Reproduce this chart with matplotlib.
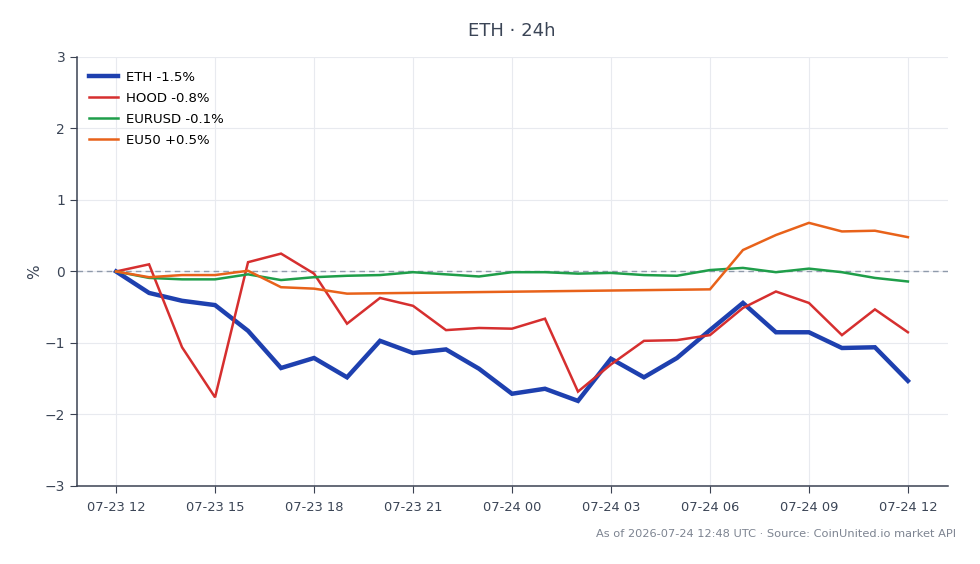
import matplotlib
matplotlib.use("Agg")
import matplotlib.pyplot as plt
import matplotlib.dates as mdates
import numpy as np
import pandas as pd

# hourly % change vs 07-23 12:00 UTC
hours = pd.date_range("2026-07-23 12:00", "2026-07-24 12:00", freq="h")

eth = [0, -0.30, -0.41, -0.47, -0.83, -1.35, -1.21, -1.48, -0.97, -1.14,
       -1.09, -1.36, -1.71, -1.64, -1.81, -1.22, -1.48, -1.21, -0.82, -0.44,
       -0.85, -0.85, -1.07, -1.06, -1.53]
hood = [0, 0.10, -1.06, -1.76, 0.13, 0.25, -0.03, -0.73, -0.37, -0.48,
        -0.82, -0.79, -0.80, -0.66, -1.68, -1.30, -0.97, -0.96, -0.89, -0.51,
        -0.28, -0.44, -0.89, -0.53, -0.85]
eurusd = [0, -0.09, -0.11, -0.11, -0.04, -0.12, -0.08, -0.06, -0.05, -0.01,
          -0.04, -0.07, -0.01, -0.01, -0.03, -0.02, -0.05, -0.06, 0.02, 0.05,
          -0.01, 0.04, -0.01, -0.09, -0.14]
# EU50 only trades part of the day
eu50_idx = [0, 1, 2, 3, 4, 5, 6, 7, 18, 19, 20, 21, 22, 23, 24]
eu50 = [0, -0.08, -0.05, -0.05, 0.01, -0.22, -0.24, -0.31,
        -0.25, 0.30, 0.51, 0.68, 0.56, 0.57, 0.48]

series = [
    ("ETH", hours, eth, "#1e40af", 3.2),
    ("HOOD", hours, hood, "#d62f2f", 1.8),
    ("EURUSD", hours, eurusd, "#1f9e4a", 1.8),
    ("EU50", hours[eu50_idx], eu50, "#e8621a", 1.8),
]

plt.rcParams['font.family'] = ['DejaVu Sans']
fig = plt.figure(figsize=(9.8, 5.64), dpi=100)
ax = fig.add_axes([0.0786, 0.1383, 0.8888, 0.7607])

ax.axhline(0, color="#8f9aab", lw=1, ls=(0, (4, 3)), zorder=2)
for name, x, y, c, lw in series:
    ax.plot(x, y, color=c, lw=lw, label=f"{name} {y[-1]:+.1f}%".replace("+-", "-"),
            zorder=3, solid_joinstyle="miter")

ax.set_ylim(-3, 3)
ax.set_xlim(hours[0] - pd.Timedelta(minutes=71), hours[-1] + pd.Timedelta(minutes=73))
ax.xaxis.set_major_locator(mdates.HourLocator(byhour=range(0, 24, 3)))
ax.xaxis.set_major_formatter(mdates.DateFormatter("%m-%d %H"))
ax.set_yticks(range(-3, 4))
ax.set_yticklabels([str(v).replace("-", "\u2212") for v in range(-3, 4)])

ax.grid(True, color="#e8eaef", lw=0.8)
ax.set_axisbelow(True)
for s in ["top", "right"]:
    ax.spines[s].set_visible(False)
for s in ["left", "bottom"]:
    ax.spines[s].set_color("#3b4252")
    ax.spines[s].set_linewidth(1.1)
ax.tick_params(colors="#3b4252", labelcolor="#3b4556", labelsize=10, length=5)
ax.tick_params(axis="x", labelsize=9.4, pad=6)
ax.set_ylabel("%", color="#3b4556", fontsize=11, labelpad=2)

ax.legend(loc="upper left", frameon=False, fontsize=9.5, handlelength=2.2,
          handletextpad=0.6, labelspacing=0.6, borderaxespad=0.5,
          bbox_to_anchor=(0.0, 0.995))

fig.text(0.5225, 0.945, "ETH \u00b7 24h", ha="center", va="center",
         fontsize=13, color="#3b4556")
fig.text(0.976, 0.053, "As of 2026-07-24 12:48 UTC \u00b7 Source: CoinUnited.io market API",
         ha="right", va="center", fontsize=8.2, color="#7d8491")

fig.savefig("out.png", dpi=100)
